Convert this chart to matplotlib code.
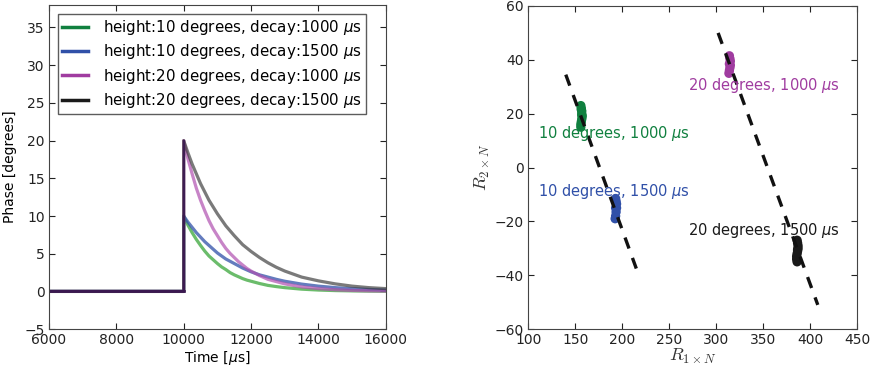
import numpy as np
import matplotlib
matplotlib.use("Agg")
import matplotlib.pyplot as plt
from matplotlib.lines import Line2D

# ---------------- data ----------------
t_pre = [6000, 10000]
t_post = [10000, 10125, 10250, 10375, 10500, 10625, 10750, 10875, 11000, 11125,
          11250, 11375, 11500, 11625, 11750, 11875, 12000, 12250, 12500, 12750,
          13000, 13500, 14000, 14500, 15000, 15500, 16000]
h10_d1000 = [10, 8.8, 7.8, 6.9, 6.1, 5.35, 4.7, 4.2, 3.7, 3.25, 2.9, 2.5, 2.2,
             1.95, 1.7, 1.5, 1.35, 1.05, 0.8, 0.64, 0.5, 0.3, 0.18, 0.11, 0.07,
             0.04, 0.02]
h10_d1500 = [10, 9.2, 8.5, 7.8, 7.2, 6.6, 6.1, 5.6, 5.1, 4.7, 4.3, 4.0, 3.7,
             3.4, 3.1, 2.85, 2.6, 2.2, 1.9, 1.6, 1.35, 0.97, 0.7, 0.5, 0.36,
             0.26, 0.18]
h20_d1000 = [20, 17.6, 15.6, 13.7, 12.1, 10.7, 9.4, 8.3, 7.4, 6.5, 5.7, 5.05,
             4.5, 3.95, 3.5, 3.05, 2.7, 2.1, 1.6, 1.3, 1.0, 0.6, 0.37, 0.22,
             0.13, 0.08, 0.05]
h20_d1500 = [20, 18.4, 16.9, 15.6, 14.3, 13.2, 12.1, 11.2, 10.3, 9.5, 8.7, 8.05,
             7.4, 6.8, 6.2, 5.75, 5.3, 4.5, 3.8, 3.2, 2.7, 1.9, 1.4, 1.0, 0.7,
             0.5, 0.37]
series = [h10_d1000, h10_d1500, h20_d1000, h20_d1500]
labels = ["height:10 degrees, decay:1000 $\\mu$s",
          "height:10 degrees, decay:1500 $\\mu$s",
          "height:20 degrees, decay:1000 $\\mu$s",
          "height:20 degrees, decay:1500 $\\mu$s"]
colors = ["#10803f", "#3050a8", "#a03ca0", "#1a1a1a"]

# scatter clusters (R1, R2)
g_x = [156, 156.5, 157, 157, 157.5, 157, 156.5, 156, 156, 157, 156.5]
g_y = [23, 22, 21, 20, 19, 18, 17, 16, 15, 19.5, 21.5]
b_x = [193, 193.5, 194, 194, 193.5, 193, 192.5, 193]
b_y = [-11.5, -12.5, -13.5, -15, -16.5, -18, -19, -15]
m_x = [314, 314.5, 315, 315, 314.5, 314, 313.5, 314]
m_y = [41.5, 40.5, 39.5, 38, 37, 36, 35, 38.5]
k_x = [386, 386.5, 387, 387, 386.5, 386, 385.5, 385.5, 386, 386.5]
k_y = [-27, -28, -29, -30, -31, -32, -33, -34, -35, -30.5]
clusters = [(g_x, g_y), (b_x, b_y), (m_x, m_y), (k_x, k_y)]
cluster_labels = ["10 degrees, 1000 $\\mu$s", "10 degrees, 1500 $\\mu$s",
                  "20 degrees, 1000 $\\mu$s", "20 degrees, 1500 $\\mu$s"]
label_pos = [(110, 11), (110, -10.5), (270, 28.8), (270, -25)]

line1_x = [140, 215]
line1_y = [34.5, -37.5]
line2_x = [302, 408]
line2_y = [50, -51]

# ---------------- plot ----------------
plt.rcParams['font.family'] = ['DejaVu Sans']
plt.rcParams['font.size'] = 10
plt.rcParams['mathtext.fontset'] = 'dejavusans'

fig = plt.figure(figsize=(8.73, 3.74), dpi=100)
ax1 = fig.add_axes([0.056, 0.12, 0.386, 0.867])
ax2 = fig.add_axes([0.605, 0.12, 0.377, 0.864])

for ax in (ax1, ax2):
    ax.tick_params(direction='in', top=True, right=True, length=4, color='#222222',
                   labelcolor='#222222', pad=3)
    for s in ax.spines.values():
        s.set_color('#444444')

curve_alpha = [0.7, 0.75, 0.7, 0.65]
curve_cols = ["#2ca02c", "#3050a8", "#b050b0", "#333333"]
for i, ys in enumerate(series):
    ax1.plot(t_pre + t_post, [0, 0] + ys, color=curve_cols[i], lw=2.3,
             alpha=curve_alpha[i], solid_joinstyle='round')
# dark step overlap
ax1.plot(t_pre + t_post[:1], [0, 0, 20], color="#3a1850", lw=1.6, alpha=0.9)
ax1.plot(t_pre, [0, 0], color="#3a1850", lw=2, alpha=0.9)

ax1.set_xlim(6000, 16000)
ax1.set_ylim(-5, 38)
ax1.set_xticks([6000, 8000, 10000, 12000, 14000, 16000])
ax1.set_yticks([-5, 0, 5, 10, 15, 20, 25, 30, 35])
ax1.set_xlabel("Time [$\\mu$s]", labelpad=1)
ax1.set_ylabel("Phase [degrees]", labelpad=5)
handles = [Line2D([0], [0], color=c, lw=2.5) for c in colors]
leg = ax1.legend(handles, labels, loc='upper left', fontsize=10.8, fancybox=False,
                 handlelength=1.7, handletextpad=1.0, borderpad=0.3,
                 labelspacing=0.35, borderaxespad=0.0,
                 bbox_to_anchor=(0.027, 0.973))
leg.get_frame().set_edgecolor('#333333')
leg.get_frame().set_linewidth(1)

scat_cols = ["#10803f", "#3050a8", "#a03ca0", "#1a1a1a"]
for (cx, cy), c in zip(clusters, scat_cols):
    ax2.scatter(cx, cy, s=45, color=c, edgecolors='none', zorder=2)
ax2.plot(line1_x, line1_y, color='#111111', lw=2.4, ls=(0, (3.5, 3)), zorder=3)
ax2.plot(line2_x, line2_y, color='#111111', lw=2.4, ls=(0, (3.5, 3)), zorder=3)
for (px, py), txt, c in zip(label_pos, cluster_labels, scat_cols):
    ax2.text(px, py, txt, color=c, fontsize=10.5, zorder=4)

ax2.set_xlim(100, 450)
ax2.set_ylim(-60, 60)
ax2.set_xticks([100, 150, 200, 250, 300, 350, 400, 450])
ax2.set_yticks([-60, -40, -20, 0, 20, 40, 60])
ax2.set_xlabel("$R_{1\\times N}$", fontsize=13, labelpad=0, color='#333333',
               math_fontfamily='cm')
ax2.set_ylabel("$R_{2\\times N}$", fontsize=13, labelpad=2, color='#333333',
               math_fontfamily='cm')

fig.savefig("out.png", dpi=100)
